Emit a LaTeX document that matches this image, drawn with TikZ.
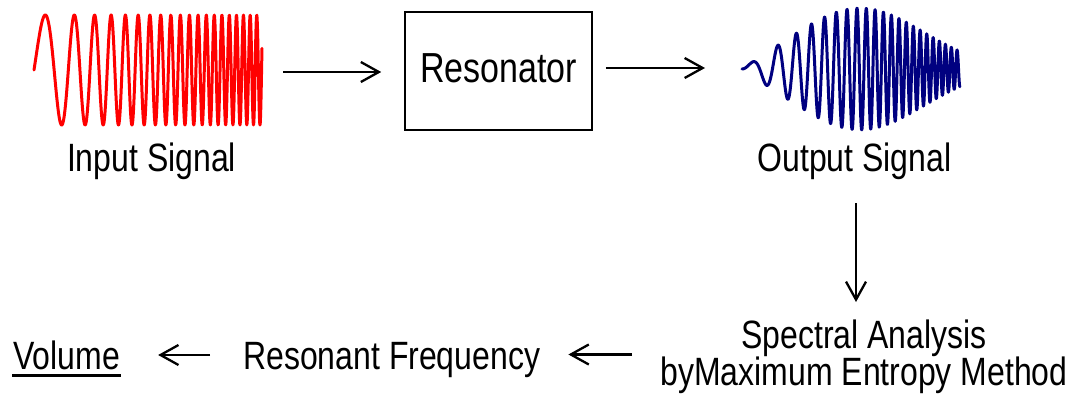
\documentclass[tikz,border=0pt]{standalone}
\usepackage{fontspec}
\setmainfont{Liberation Sans}[FakeStretch=0.81]
\usetikzlibrary{arrows.meta,calc}
\definecolor{wavered}{RGB}{255,0,0}
\definecolor{wavenavy}{RGB}{0,0,128}
\begin{document}
\begin{tikzpicture}[x=1pt,y=-1pt,
  lbl/.style={inner sep=0pt, font=\fontsize{39.5}{37}\selectfont, text height=28pt, text depth=8pt},
  arr/.style={line width=2.3pt, -{Straight Barb[length=18pt,width=20pt]}},
  wave/.style={line width=3pt, line join=round, line cap=round},
  holder/.style={inner sep=0pt, outer sep=0pt}]
\useasboundingbox (0,0) rectangle (1074,398);
\fill[white] (0,0) rectangle (1074,398);

% waveforms
\draw[wave, wavered] plot[domain=0:2.28, samples=800, variable=\u]
  ({34+100*\u},{70-55*sin(360*(1.87*\u+3.04*\u*\u))});
\draw[wave, wavenavy] plot[domain=0:2.18, samples=800, variable=\u]
  ({742+100*\u},{69-61*(1-exp(-6.25*\u))*exp(-((100*\u-118)/90)*((100*\u-118)/90))*sin(360*(2.2*\u+3.57*\u*\u))});

\node[holder, minimum width=228pt, minimum height=114pt] (in) at (148,70) {};
\node[holder, minimum width=218pt, minimum height=124pt] (out) at (851,69) {};

% resonator
\node[draw, line width=1.6pt, minimum width=187pt, minimum height=118pt, inner sep=0pt,
      font=\fontsize{42}{42}\selectfont, text height=30pt, text depth=6pt] (res) at (498.5,71) {Resonator\hspace{8pt}};

% labels
\node[lbl, anchor=base] (inlbl) at (151.5,172) {Input Signal};
\node[lbl, anchor=base] (outlbl) at (854.5,172) {Output Signal};
\node[lbl, anchor=base west] (vol) at (13,369) {Volume};
\node[lbl, anchor=base west] (rf) at (243,369) {Resonant Frequency};
\node[inner sep=0pt, font=\fontsize{39.5}{37}\selectfont, align=center, anchor=north] (spec) at (864,320)
  {Spectral Analysis\\byMaximum Entropy Method};

\draw[line width=3.2pt] ($(vol.south west)+(-1,-2)$) -- ($(vol.south east)+(1,-2)$);

% connectors
\draw[arr] ($(in.east)+(21,2)$) -- ($(res.west)+(-23,1)$);
\draw[arr] ($(res.east)+(13,-3)$) -- ($(out.west)+(-37,-1)$);
\draw[arr] ($(outlbl.south)+(1.5,23)$) -- ($(spec.north)+(-8,-18)$);
\draw[arr] ($(spec.west |- rf.east)+(-28,-4.5)$) -- ($(rf.east)+(28,-4.5)$);
\draw[arr] ($(rf.west)+(-33,-4)$) -- ($(vol.east)+(38,-4)$);
\end{tikzpicture}
\end{document}
